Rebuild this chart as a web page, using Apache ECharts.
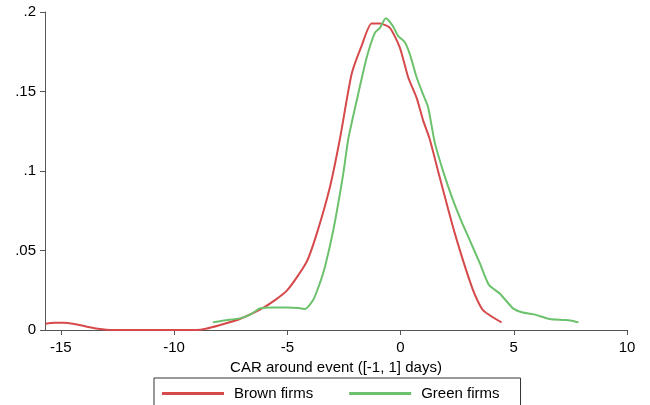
<!DOCTYPE html>
<html lang="en">
<head>
	<meta charset="UTF-8">
	<title>CAR density</title>
	<script src="https://cdn.jsdelivr.net/npm/echarts@6/dist/echarts.min.js"></script>
	<style>
		html, body { margin: 0; padding: 0; background: #fff; }
	</style>
</head>
<body>
	<div id="main" style="width: 650px;height:405px;"></div>
	<script type="text/javascript">
	// brown firms density
	var brownX = [-15.68, -15.3, -14.9, -14.4, -13.85, -13.26, -12.8, -9.0, -8.6, -8.0, -7.1, -6.0, -5.03, -4.15, -3.7, -3.12, -2.68, -2.16, -1.72, -1.28, -0.91, -0.47, -0.03, 0.34, 0.71, 1.0, 1.29, 1.73, 2.4, 3.2, 3.64, 4.46];
	var brownY = [0.0040, 0.0045, 0.0046, 0.0038, 0.0021, 0.0006, 0, 0, 0.0008, 0.003, 0.0069, 0.0145, 0.0246, 0.0428, 0.0606, 0.0898, 0.120, 0.161, 0.1787, 0.1927, 0.1927, 0.190, 0.1776, 0.1588, 0.146, 0.1317, 0.120, 0.096, 0.0606, 0.0251, 0.0125, 0.0048];
	// green firms density
	var greenX = [-8.29, -7.8, -7.09, -6.6, -6.21, -5.6, -5.03, -4.5, -4.22, -3.86, -3.6, -3.34, -2.97, -2.53, -2.31, -1.94, -1.5, -1.13, -0.91, -0.65, -0.33, -0.11, 0.19, 0.41, 0.71, 1.0, 1.22, 1.51, 1.9, 2.32, 2.7, 3.06, 3.5, 3.91, 4.38, 4.97, 5.4, 5.85, 6.59, 7.17, 7.5, 7.86];
	var greenY = [0.0048, 0.006, 0.0073, 0.010, 0.0136, 0.0142, 0.0142, 0.0138, 0.0132, 0.0188, 0.028, 0.0397, 0.0627, 0.0982, 0.120, 0.144, 0.171, 0.187, 0.190, 0.196, 0.191, 0.185, 0.181, 0.1735, 0.159, 0.148, 0.140, 0.118, 0.099, 0.0815, 0.068, 0.0564, 0.042, 0.0282, 0.023, 0.0136, 0.011, 0.010, 0.0069, 0.0063, 0.006, 0.0048];
	// tick labels
	var xTicks = [-15, -10, -5, 0, 5, 10];
	var yTicks = [0, 0.05, 0.1, 0.15, 0.2];
	var yTickLabels = ['0', '.05', '.1', '.15', '.2'];

	function pairs(xs, ys) {
		return xs.map(function (x, i) { return [x, ys[i]]; });
	}

	var font = 'Liberation Sans, Arial, sans-serif';
	var axisColor = '#555';

	var myChart = echarts.init(document.getElementById('main'));
	var option = {
		animation: false,
		grid: { left: 45, right: 23, top: 12, bottom: 75 },
		legend: {
			left: 154,
			top: 378,
			padding: [8, 21, 8, 8],
			borderColor: '#333',
			borderWidth: 1,
			borderRadius: 0,
			itemWidth: 62,
			itemHeight: 3,
			itemGap: 36,
			icon: 'rect',
			textStyle: { fontFamily: font, fontSize: 15, color: '#000', padding: [0, 0, 0, 5] },
			data: ['Brown firms', 'Green firms']
		},
		xAxis: {
			type: 'value',
			min: -15.7,
			max: 10,
			name: 'CAR around event ([-1, 1] days)',
			nameLocation: 'middle',
			nameGap: 22,
			nameTextStyle: { fontFamily: font, fontSize: 15, color: '#000' },
			splitLine: { show: false },
			axisLine: { show: true, onZero: false, lineStyle: { color: axisColor, width: 1 } },
			axisTick: { show: true, length: 5, customValues: xTicks, lineStyle: { color: axisColor } },
			axisLabel: { customValues: xTicks, margin: 10, fontFamily: font, fontSize: 15, color: '#000' }
		},
		yAxis: {
			type: 'value',
			min: 0,
			max: 0.2,
			interval: 0.05,
			splitLine: { show: false },
			axisLine: { show: true, onZero: false, lineStyle: { color: axisColor, width: 1 } },
			axisTick: { show: true, length: 5, lineStyle: { color: axisColor } },
			axisLabel: {
				margin: 9, fontFamily: font, fontSize: 15, color: '#000',
				formatter: function (v) {
					var i = yTicks.findIndex(function (t) { return Math.abs(t - v) < 1e-9; });
					return i >= 0 ? yTickLabels[i] : '';
				}
			}
		},
		series: [
			{
				name: 'Brown firms',
				type: 'line',
				showSymbol: false,
				smooth: 0.2,
				color: '#d64a4b',
				lineStyle: { width: 2, color: '#d64a4b' },
				data: pairs(brownX, brownY)
			},
			{
				name: 'Green firms',
				type: 'line',
				showSymbol: false,
				smooth: 0.2,
				color: '#6cc26c',
				lineStyle: { width: 2, color: '#6cc26c' },
				data: pairs(greenX, greenY)
			}
		]
	};
	myChart.setOption(option);
	</script>
</body>
</html>
